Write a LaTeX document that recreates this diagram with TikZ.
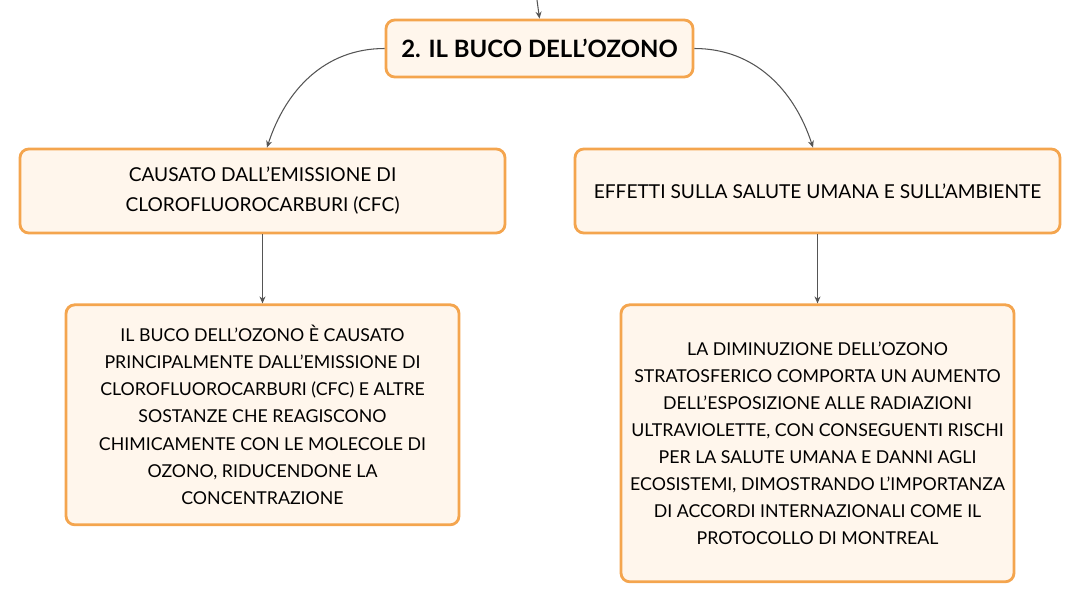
\documentclass[tikz,border=0pt]{standalone}
\usepackage{fontspec}
\setmainfont{Lato}
\usepackage{xcolor}
\usetikzlibrary{arrows.meta,positioning}
\definecolor{OzoneOrange}{HTML}{F4A54E}
\definecolor{OzoneCream}{HTML}{FFF6EC}
\definecolor{OzoneGrey}{HTML}{555555}

\begin{document}
\begin{tikzpicture}[
  box/.style={draw=OzoneOrange, fill=OzoneCream, line width=1.6pt, rounded corners=5pt, align=center, inner sep=0pt},
  topic/.style={box, minimum width=6.14cm, minimum height=1.14cm, font=\bfseries\fontsize{13.6}{16}\selectfont},
  branch/.style={box, minimum width=9.7cm, minimum height=1.68cm, font=\fontsize{10.9}{17}\selectfont},
  detail/.style={box, minimum width=7.86cm, font=\fontsize{10.1}{15.4}\selectfont},
  link/.style={-{Stealth[length=1.4mm,width=1.2mm]}, color=OzoneGrey, line width=0.6pt}
]
  \useasboundingbox (0,0) rectangle (21.62,-11.98);

  \node[topic] (ozone) at (10.79,-0.97) {2. IL BUCO DELL'OZONO};
  \coordinate (parent) at (10.74,0);

  \node[branch] (cause) at (5.25,-3.82) {CAUSATO DALL'EMISSIONE DI\\CLOROFLUOROCARBURI (CFC)};
  \node[branch] (effects) at (16.35,-3.82) {EFFETTI SULLA SALUTE UMANA E SULL'AMBIENTE};

  \node[detail, minimum height=4.4cm, below=1.38cm of cause] (causetext) {IL BUCO DELL'OZONO È CAUSATO\\PRINCIPALMENTE DALL'EMISSIONE DI\\CLOROFLUOROCARBURI (CFC) E ALTRE\\SOSTANZE CHE REAGISCONO\\CHIMICAMENTE CON LE MOLECOLE DI\\OZONO, RIDUCENDONE LA\\CONCENTRAZIONE};
  \node[detail, minimum height=5.54cm, below=1.38cm of effects] (effectstext) {LA DIMINUZIONE DELL'OZONO\\STRATOSFERICO COMPORTA UN AUMENTO\\DELL'ESPOSIZIONE ALLE RADIAZIONI\\ULTRAVIOLETTE, CON CONSEGUENTI RISCHI\\PER LA SALUTE UMANA E DANNI AGLI\\ECOSISTEMI, DIMOSTRANDO L'IMPORTANZA\\DI ACCORDI INTERNAZIONALI COME IL\\PROTOCOLLO DI MONTREAL};

  \draw[link] (parent) -- (ozone.north);
  \draw[link] (ozone.west) to[out=180, in=72] ([xshift=0.09cm]cause.north);
  \draw[link] (ozone.east) to[out=0, in=108] ([xshift=-0.09cm]effects.north);
  \draw[link] (cause) -- (causetext);
  \draw[link] (effects) -- (effectstext);
\end{tikzpicture}
\end{document}
